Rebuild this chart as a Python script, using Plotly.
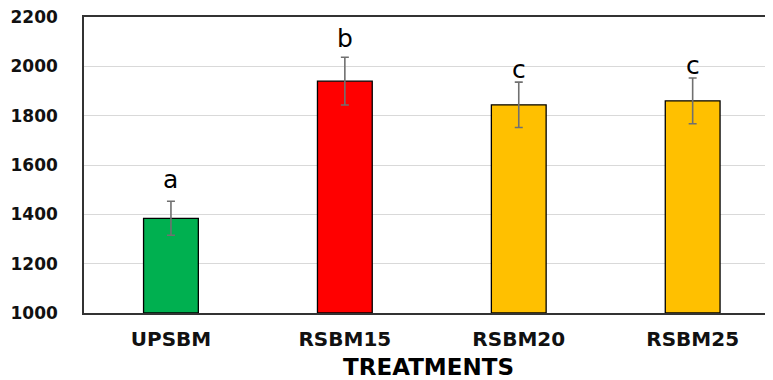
import plotly.graph_objects as go

treatments = ["UPSBM", "RSBM15", "RSBM20", "RSBM25"]
means = [1384, 1940, 1844, 1860]
errors = [69, 97, 92, 93]
letters = ["a", "b", "c", "c"]
colors = ["#00B050", "#FF0000", "#FFC000", "#FFC000"]
y_ticks = [1000, 1200, 1400, 1600, 1800, 2000, 2200]

letter_shift = [5, 2, -4, -4]
FONT = "DejaVu Sans, Verdana, sans-serif"

fig = go.Figure()
fig.add_trace(go.Bar(
    x=treatments, y=[m - 1000 for m in means], base=1000,
    width=0.315,
    marker=dict(color=colors, line=dict(color="black", width=1.3)),
    error_y=dict(type="data", array=errors, visible=True,
                 color="#707070", thickness=1.6, width=4),
    hoverinfo="skip",
))

for i, (t, m, e, l) in enumerate(zip(treatments, means, errors, letters)):
    fig.add_annotation(x=t, y=m + e, text=l, showarrow=False,
                       yanchor="bottom", yshift=letter_shift[i],
                       font=dict(family=FONT, size=25, color="black"))

fig.update_layout(
    width=765, height=372,
    margin=dict(l=76, r=0, t=9, b=67),
    paper_bgcolor="white", plot_bgcolor="white",
    showlegend=False,
    font=dict(family=FONT, color="black"),
    xaxis=dict(
        range=[-0.5, 3.462], automargin=False,
        showline=True, linecolor="#333333", linewidth=1.5, mirror=True,
        ticks="", ticklabelstandoff=7,
        tickfont=dict(size=20, family=FONT, weight="bold", color="#111111"),
        title=dict(text="<b>TREATMENTS</b>", font=dict(size=23, family=FONT), standoff=13),
    ),
    yaxis=dict(
        range=[1000, 2200], tickvals=y_ticks, automargin=False,
        showline=True, linecolor="#333333", linewidth=1.5,
        gridcolor="#D9D9D9", gridwidth=1,
        ticks="", ticklabelstandoff=21, ticklabeloverflow="allow",
        tickfont=dict(size=17, family=FONT, weight="bold", color="#111111"),
        zeroline=False,
    ),
)

fig.write_html("out.html")
